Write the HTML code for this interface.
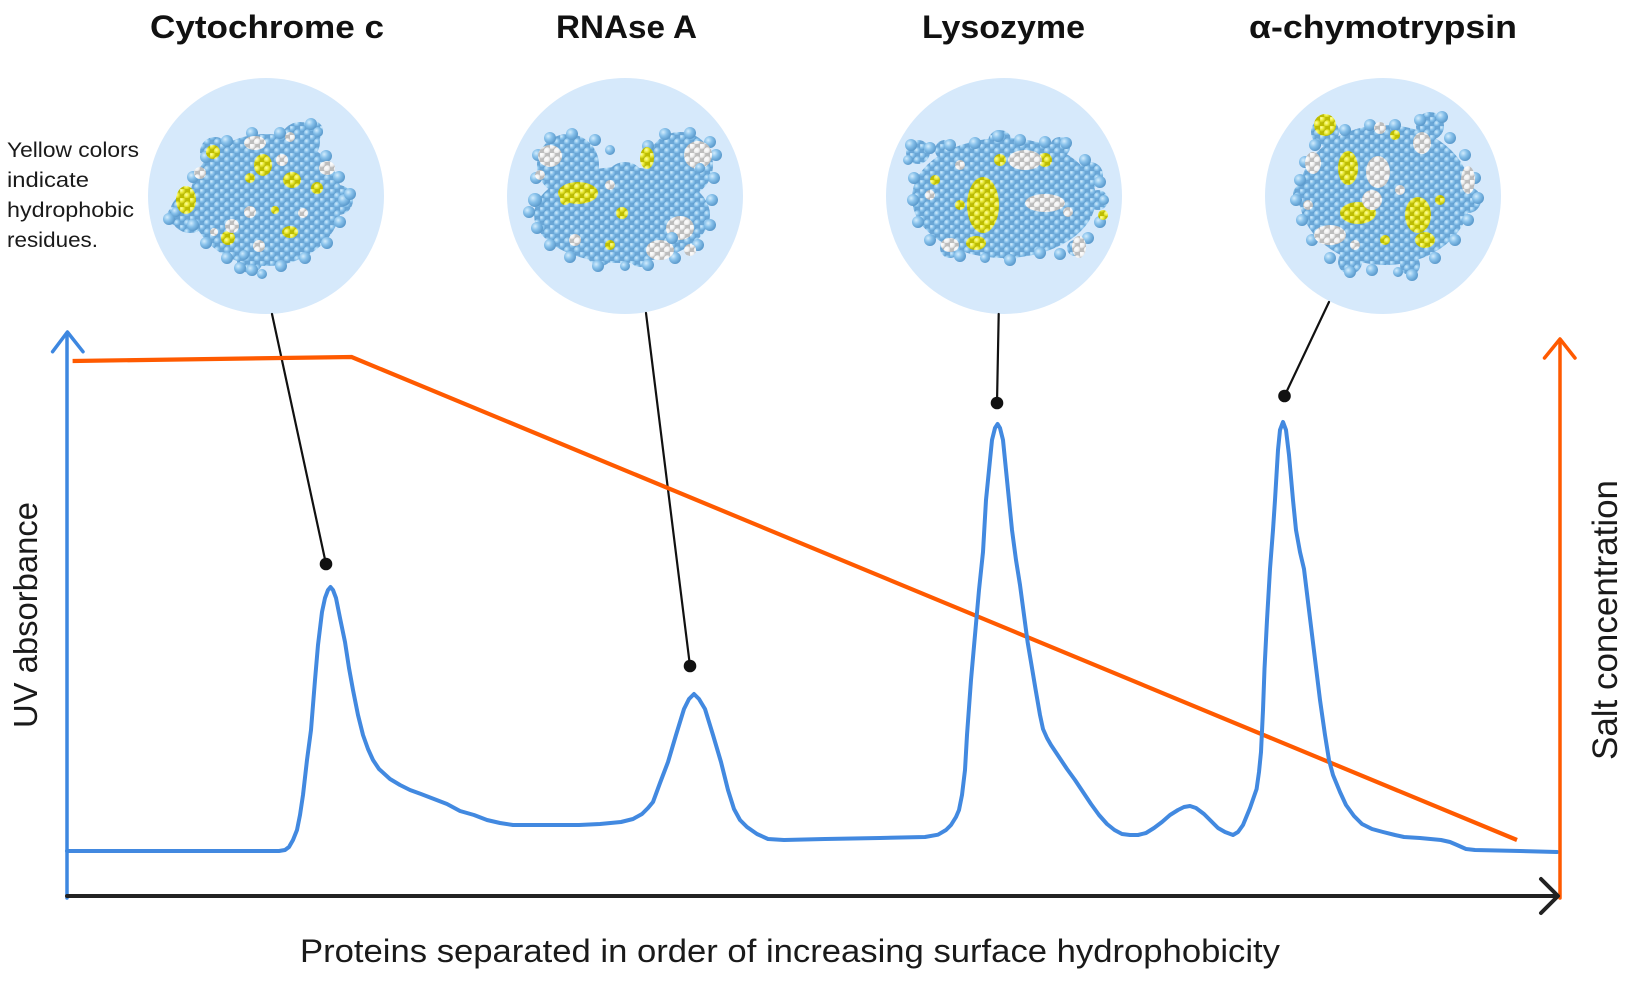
<!DOCTYPE html>
<html>
<head>
<meta charset="utf-8">
<style>
html,body{margin:0;padding:0;background:#fff;}
svg{display:block;}
text{font-family:"Liberation Sans",Arial,sans-serif;}
</style>
</head>
<body>
<svg width="1650" height="1004" viewBox="0 0 1650 1004" xmlns="http://www.w3.org/2000/svg">
<defs>
  <radialGradient id="gb" cx="35%" cy="35%" r="65%">
    <stop offset="0" stop-color="#d2ecfd"/>
    <stop offset="0.5" stop-color="#86c0ea"/>
    <stop offset="1" stop-color="#5c9bcd"/>
  </radialGradient>
  <radialGradient id="gy" cx="35%" cy="35%" r="65%">
    <stop offset="0" stop-color="#ffffa8"/>
    <stop offset="0.5" stop-color="#e8e832"/>
    <stop offset="1" stop-color="#b0b000"/>
  </radialGradient>
  <radialGradient id="gw" cx="35%" cy="35%" r="65%">
    <stop offset="0" stop-color="#ffffff"/>
    <stop offset="0.55" stop-color="#eeeeee"/>
    <stop offset="1" stop-color="#b0b0b0"/>
  </radialGradient>
  <pattern id="pb" width="10" height="9" patternUnits="userSpaceOnUse">
    <rect width="10" height="9" fill="#6aa6d6"/>
    <circle cx="2.5" cy="2.5" r="3.7" fill="url(#gb)"/>
    <circle cx="7.5" cy="7" r="3.7" fill="url(#gb)"/>
  </pattern>
  <pattern id="py" width="10" height="9" patternUnits="userSpaceOnUse">
    <rect width="10" height="9" fill="#bdbd00"/>
    <circle cx="2.5" cy="2.5" r="3.7" fill="url(#gy)"/>
    <circle cx="7.5" cy="7" r="3.7" fill="url(#gy)"/>
  </pattern>
  <pattern id="pw" width="10" height="9" patternUnits="userSpaceOnUse">
    <rect width="10" height="9" fill="#bdbdbd"/>
    <circle cx="2.5" cy="2.5" r="3.7" fill="url(#gw)"/>
    <circle cx="7.5" cy="7" r="3.7" fill="url(#gw)"/>
  </pattern>
</defs>

<!-- Titles -->
<g font-weight="bold" font-size="32" fill="#111">
  <text x="150" y="38" textLength="234" lengthAdjust="spacingAndGlyphs">Cytochrome c</text>
  <text x="556" y="38" textLength="141" lengthAdjust="spacingAndGlyphs">RNAse A</text>
  <text x="922" y="38" textLength="163" lengthAdjust="spacingAndGlyphs">Lysozyme</text>
  <text x="1249" y="38" textLength="268" lengthAdjust="spacingAndGlyphs">α-chymotrypsin</text>
</g>

<!-- Caption -->
<g font-size="21" fill="#1a1a1a">
  <text x="7" y="157" textLength="132" lengthAdjust="spacingAndGlyphs">Yellow colors</text>
  <text x="7" y="187" textLength="82" lengthAdjust="spacingAndGlyphs">indicate</text>
  <text x="7" y="217" textLength="127" lengthAdjust="spacingAndGlyphs">hydrophobic</text>
  <text x="7" y="247" textLength="91" lengthAdjust="spacingAndGlyphs">residues.</text>
</g>

<!-- Circles -->
<g fill="#d6e9fb">
  <circle cx="266" cy="196" r="118"/>
  <circle cx="625" cy="196" r="118"/>
  <circle cx="1004" cy="196" r="118"/>
  <circle cx="1383" cy="196" r="118"/>
</g>

<!-- Cytochrome c molecule -->
<g>
  <g fill="url(#pb)">
    <ellipse cx="266" cy="200" rx="76" ry="66"/>
    <circle cx="190" cy="213" r="20"/>
    <circle cx="176" cy="216" r="9"/>
    <circle cx="300" cy="142" r="20"/>
    <circle cx="313" cy="131" r="10"/>
    <circle cx="250" cy="260" r="13"/>
    <circle cx="338" cy="200" r="15"/>
    <circle cx="215" cy="152" r="15"/>
  </g>
  <g fill="url(#gb)">
    <circle cx="344" cy="200" r="6"/><circle cx="340" cy="222" r="6"/><circle cx="327" cy="243" r="6"/>
    <circle cx="305" cy="258" r="6"/><circle cx="281" cy="266" r="6"/><circle cx="252" cy="270" r="6"/>
    <circle cx="240" cy="268" r="6"/><circle cx="262" cy="274" r="5"/><circle cx="227" cy="258" r="6"/>
    <circle cx="206" cy="243" r="6"/><circle cx="193" cy="225" r="6"/><circle cx="169" cy="219" r="6"/>
    <circle cx="176" cy="212" r="5"/><circle cx="193" cy="177" r="6"/><circle cx="206" cy="157" r="6"/>
    <circle cx="227" cy="141" r="6"/><circle cx="252" cy="133" r="6"/><circle cx="280" cy="133" r="6"/>
    <circle cx="311" cy="124" r="6"/><circle cx="318" cy="132" r="5"/><circle cx="326" cy="156" r="6"/>
    <circle cx="339" cy="177" r="6"/><circle cx="350" cy="194" r="6"/><circle cx="244" cy="255" r="5"/>
  </g>
  <g fill="url(#py)">
    <ellipse cx="186" cy="200" rx="10" ry="14"/>
    <circle cx="213" cy="152" r="7"/>
    <ellipse cx="263" cy="165" rx="9" ry="11"/>
    <ellipse cx="292" cy="180" rx="9" ry="8"/>
    <circle cx="228" cy="238" r="7"/>
    <ellipse cx="290" cy="232" rx="8" ry="6"/>
    <circle cx="317" cy="188" r="6"/>
    <circle cx="250" cy="178" r="5"/>
    <circle cx="275" cy="210" r="4"/>
  </g>
  <g fill="url(#pw)">
    <ellipse cx="255" cy="143" rx="11" ry="7"/>
    <circle cx="282" cy="160" r="6"/>
    <ellipse cx="327" cy="168" rx="8" ry="7"/>
    <circle cx="200" cy="173" r="6"/>
    <circle cx="232" cy="226" r="7"/>
    <circle cx="250" cy="212" r="6"/>
    <circle cx="303" cy="213" r="5"/>
    <circle cx="259" cy="246" r="6"/>
    <circle cx="290" cy="137" r="5"/>
    <circle cx="214" cy="232" r="4"/>
  </g>
</g>

<!-- RNAse A molecule -->
<g>
  <g fill="url(#pb)">
    <ellipse cx="622" cy="215" rx="88" ry="48"/>
    <circle cx="568" cy="165" r="31"/>
    <circle cx="680" cy="165" r="33"/>
    <circle cx="625" cy="182" r="20"/>
    <circle cx="600" cy="253" r="13"/>
    <circle cx="640" cy="256" r="11"/>
  </g>
  <g fill="url(#gb)">
    <circle cx="535" cy="200" r="7"/><circle cx="529" cy="212" r="6"/><circle cx="537" cy="228" r="6"/>
    <circle cx="550" cy="245" r="6"/><circle cx="570" cy="257" r="6"/><circle cx="598" cy="266" r="6"/>
    <circle cx="625" cy="266" r="5"/><circle cx="648" cy="265" r="6"/><circle cx="675" cy="258" r="6"/>
    <circle cx="698" cy="245" r="6"/><circle cx="710" cy="225" r="6"/><circle cx="712" cy="200" r="6"/>
    <circle cx="714" cy="178" r="6"/><circle cx="716" cy="155" r="6"/><circle cx="710" cy="142" r="6"/>
    <circle cx="690" cy="133" r="6"/><circle cx="665" cy="134" r="6"/><circle cx="648" cy="146" r="6"/>
    <circle cx="610" cy="150" r="5"/><circle cx="595" cy="140" r="6"/><circle cx="572" cy="134" r="6"/>
    <circle cx="550" cy="138" r="6"/><circle cx="538" cy="155" r="6"/><circle cx="536" cy="178" r="6"/>
  </g>
  <g fill="url(#py)">
    <ellipse cx="578" cy="193" rx="20" ry="11"/>
    <ellipse cx="647" cy="158" rx="7" ry="11"/>
    <circle cx="622" cy="213" r="6"/>
    <circle cx="610" cy="245" r="5"/>
    <circle cx="565" cy="200" r="5"/>
  </g>
  <g fill="url(#pw)">
    <ellipse cx="550" cy="156" rx="12" ry="11"/>
    <ellipse cx="698" cy="155" rx="14" ry="14"/>
    <ellipse cx="680" cy="228" rx="14" ry="12"/>
    <ellipse cx="660" cy="250" rx="14" ry="10"/>
    <circle cx="690" cy="250" r="6"/>
    <circle cx="610" cy="185" r="5"/>
    <circle cx="575" cy="240" r="6"/>
    <circle cx="540" cy="175" r="5"/>
  </g>
  <g fill="url(#gb)">
    <circle cx="672" cy="238" r="6"/>
    <circle cx="700" cy="168" r="5"/>
  </g>
</g>

<!-- Lysozyme molecule -->
<g>
  <g fill="url(#pb)">
    <ellipse cx="1004" cy="198" rx="92" ry="60"/>
    <circle cx="918" cy="152" r="12"/>
    <circle cx="1090" cy="175" r="13"/>
    <circle cx="1098" cy="200" r="10"/>
    <circle cx="1000" cy="142" r="12"/>
    <circle cx="1060" cy="147" r="10"/>
    <circle cx="950" cy="248" r="10"/>
    <circle cx="1010" cy="251" r="10"/>
    <circle cx="1075" cy="248" r="8"/>
    <circle cx="945" cy="150" r="10"/>
  </g>
  <g fill="url(#gb)">
    <circle cx="911" cy="145" r="6"/><circle cx="908" cy="160" r="5"/><circle cx="914" cy="178" r="6"/>
    <circle cx="913" cy="200" r="6"/><circle cx="918" cy="222" r="6"/><circle cx="930" cy="240" r="6"/>
    <circle cx="960" cy="256" r="6"/><circle cx="985" cy="258" r="5"/><circle cx="1010" cy="260" r="6"/>
    <circle cx="1040" cy="253" r="6"/><circle cx="1060" cy="254" r="6"/><circle cx="1088" cy="238" r="6"/>
    <circle cx="1100" cy="222" r="6"/><circle cx="1104" cy="200" r="5"/><circle cx="1100" cy="182" r="6"/>
    <circle cx="1085" cy="160" r="6"/><circle cx="1066" cy="143" r="6"/><circle cx="1045" cy="142" r="6"/>
    <circle cx="1020" cy="140" r="6"/><circle cx="998" cy="136" r="6"/><circle cx="975" cy="143" r="6"/>
    <circle cx="950" cy="145" r="6"/><circle cx="930" cy="148" r="6"/>
  </g>
  <g fill="url(#py)">
    <ellipse cx="983" cy="205" rx="16" ry="28"/>
    <ellipse cx="976" cy="243" rx="10" ry="7"/>
    <circle cx="1045" cy="160" r="7"/>
    <circle cx="935" cy="180" r="5"/>
    <circle cx="1103" cy="215" r="5"/>
    <circle cx="1000" cy="160" r="6"/>
    <circle cx="960" cy="205" r="5"/>
  </g>
  <g fill="url(#pw)">
    <ellipse cx="1025" cy="160" rx="17" ry="10"/>
    <ellipse cx="1045" cy="203" rx="20" ry="9"/>
    <ellipse cx="950" cy="245" rx="9" ry="7"/>
    <ellipse cx="1079" cy="247" rx="7" ry="11"/>
    <circle cx="930" cy="195" r="5"/>
    <circle cx="960" cy="165" r="5"/>
    <circle cx="1068" cy="212" r="5"/>
  </g>
</g>

<!-- alpha-chymotrypsin molecule -->
<g>
  <g fill="url(#pb)">
    <ellipse cx="1385" cy="195" rx="86" ry="70"/>
    <circle cx="1325" cy="132" r="14"/>
    <circle cx="1430" cy="126" r="14"/>
    <circle cx="1468" cy="200" r="13"/>
    <circle cx="1305" cy="195" r="12"/>
    <circle cx="1350" cy="262" r="12"/>
    <circle cx="1410" cy="265" r="10"/>
  </g>
  <g fill="url(#gb)">
    <circle cx="1300" cy="180" r="6"/><circle cx="1296" cy="200" r="6"/><circle cx="1302" cy="220" r="6"/>
    <circle cx="1312" cy="240" r="6"/><circle cx="1330" cy="258" r="6"/><circle cx="1350" cy="272" r="6"/>
    <circle cx="1372" cy="270" r="6"/><circle cx="1398" cy="272" r="5"/><circle cx="1412" cy="275" r="6"/>
    <circle cx="1435" cy="258" r="6"/><circle cx="1455" cy="240" r="6"/><circle cx="1468" cy="220" r="6"/>
    <circle cx="1478" cy="198" r="6"/><circle cx="1475" cy="178" r="6"/><circle cx="1465" cy="155" r="6"/>
    <circle cx="1450" cy="138" r="6"/><circle cx="1442" cy="117" r="6"/><circle cx="1420" cy="120" r="6"/>
    <circle cx="1395" cy="125" r="6"/><circle cx="1370" cy="125" r="6"/><circle cx="1345" cy="130" r="6"/>
    <circle cx="1315" cy="145" r="6"/><circle cx="1305" cy="162" r="6"/>
  </g>
  <g fill="url(#py)">
    <ellipse cx="1325" cy="125" rx="11" ry="11"/>
    <ellipse cx="1348" cy="168" rx="10" ry="17"/>
    <ellipse cx="1358" cy="213" rx="18" ry="11"/>
    <ellipse cx="1418" cy="215" rx="13" ry="18"/>
    <ellipse cx="1425" cy="240" rx="10" ry="8"/>
    <circle cx="1395" cy="135" r="5"/>
    <circle cx="1440" cy="200" r="5"/>
    <circle cx="1385" cy="240" r="5"/>
  </g>
  <g fill="url(#pw)">
    <ellipse cx="1378" cy="172" rx="12" ry="16"/>
    <ellipse cx="1372" cy="200" rx="10" ry="10"/>
    <ellipse cx="1313" cy="163" rx="8" ry="11"/>
    <ellipse cx="1330" cy="235" rx="16" ry="10"/>
    <ellipse cx="1422" cy="143" rx="9" ry="11"/>
    <ellipse cx="1468" cy="180" rx="7" ry="14"/>
    <circle cx="1380" cy="128" r="6"/>
    <circle cx="1308" cy="205" r="5"/>
    <circle cx="1400" cy="190" r="5"/>
    <circle cx="1355" cy="245" r="5"/>
  </g>
</g>

<!-- Pointer lines -->
<g stroke="#111" stroke-width="2.2" fill="none" stroke-linecap="round">
  <line x1="272" y1="314" x2="326" y2="564"/>
  <line x1="646" y1="313" x2="690" y2="666"/>
  <line x1="998.7" y1="314" x2="997" y2="403"/>
  <line x1="1329" y1="302" x2="1284.5" y2="396"/>
</g>
<g fill="#111">
  <circle cx="326" cy="564" r="6.3"/>
  <circle cx="690" cy="666" r="6.3"/>
  <circle cx="997" cy="403" r="6.3"/>
  <circle cx="1284.5" cy="396" r="6.3"/>
</g>

<!-- Salt gradient line -->
<polyline points="72.6,361 351.6,357 1517,840" fill="none" stroke="#ff5a00" stroke-width="4.2" stroke-linejoin="miter"/>

<!-- Chromatogram curve -->
<polyline fill="none" stroke="#4289e0" stroke-width="4" stroke-linejoin="round" stroke-linecap="round"
points="67,851 279,851 285,850 289,847 293,840 297,830 300,815 303,795 307,760 311,730 315,680 318,645 322,612 325,598 328,590 330.5,587 333,590 336,598 340,618 345,642 349,668 353,690 358,715 363,735 368,749 373,760 379,769 390,779 400,785 410,790 421,794 434,799 447,804 460,811 474,815 487,820 500,823 513,825 526,825 550,825 579,825 600,824 621,822 633,819 642,814 648,808 653,802 660,783 668,762 676,735 684,709 689,699 694,694 699,699 705,709 713,735 721,762 728,790 734,809 740,820 747,827 757,834 768,839 784,840 825,839 880,838 925,837 938,834.7 946,830 951,825 956,817 959,810 962,795 965,770 967,735 971,680 975,635 979,590 983,552 986,500 989,470 992,440 995,428 997.6,424 1000,428 1003,440 1006,470 1009,500 1012,530 1016,560 1020,585 1024,615 1027.6,642 1032,668 1035.5,689 1040,715 1043,729 1047,738 1051,745 1059,757 1067,769 1075,780 1083,792 1091,804 1099,815 1107,824 1114.5,830 1122,834 1130,835 1138,835 1146,833 1154,828 1162,822 1170,815 1178,810 1184,807 1190,806 1196,808 1204,814 1212,822 1218,828 1225,832 1233,835 1238,832 1243,825 1250,808 1256.6,789 1259,772 1261,752 1263,710 1264.5,669 1267,620 1270,569 1273,530 1275,500 1278,450 1280,430 1283,422 1286,430 1289,455 1293,500 1296,530 1300,552 1304,569 1309,610 1314.5,655 1320,700 1325,735 1329,760 1333,775 1340,792 1346,805 1354,816 1362,824 1372,829 1383,832 1395,835 1404,837 1420,838 1441,840 1450,842 1457,845 1466,849 1475,850 1520,851 1557,852"/>

<!-- Axes -->
<g fill="none" stroke-linecap="round" stroke-linejoin="round">
  <line x1="67" y1="898" x2="67" y2="333" stroke="#3d87e0" stroke-width="3.5"/>
  <polyline points="52.6,351.7 67.4,332 83,351.7" stroke="#3d87e0" stroke-width="3.5"/>
  <line x1="1560" y1="898" x2="1560" y2="340" stroke="#ff5a00" stroke-width="3.5"/>
  <polyline points="1544.5,358 1560,339 1575,358" stroke="#ff5a00" stroke-width="3.5"/>
  <line x1="67" y1="896" x2="1557" y2="896" stroke="#222" stroke-width="4"/>
  <polyline points="1541,879 1558,896 1541,913" stroke="#222" stroke-width="4"/>
</g>

<!-- Axis labels -->
<text x="300" y="962" font-size="32" fill="#1a1a1a" textLength="980" lengthAdjust="spacingAndGlyphs">Proteins separated in order of increasing surface hydrophobicity</text>
<text transform="translate(37,615) rotate(-90)" text-anchor="middle" font-size="33" fill="#1a1a1a" textLength="226" lengthAdjust="spacingAndGlyphs">UV absorbance</text>
<text transform="translate(1617,620) rotate(-90)" text-anchor="middle" font-size="35" fill="#1a1a1a" textLength="280" lengthAdjust="spacingAndGlyphs">Salt concentration</text>
</svg>
</body>
</html>
